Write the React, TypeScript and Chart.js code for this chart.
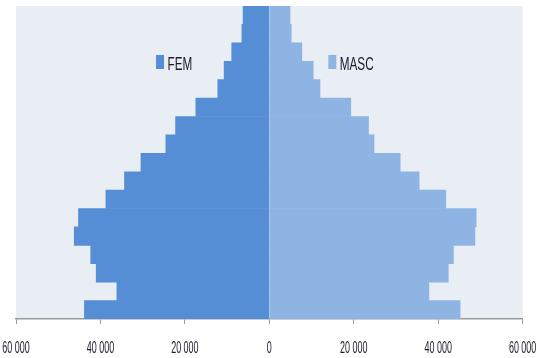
import React, { useEffect, useRef } from "react";
import { Chart, registerables } from "chart.js";

Chart.register(...registerables);

// Age groups, youngest first (drawn bottom to top)
const ageGroups = [
  "0-4", "5-9", "10-14", "15-19", "20-24", "25-29", "30-34", "35-39", "40-44",
  "45-49", "50-54", "55-59", "60-64", "65-69", "70-74", "75-79", "80+",
];

const femValues = [
  43800, 36100, 41000, 42300, 46200, 45200, 38700, 34300, 30400,
  24500, 22200, 17400, 12200, 10700, 8900, 6500, 6200,
];

const mascValues = [
  45200, 37800, 42400, 43600, 48700, 49000, 41800, 35500, 31000,
  24800, 23500, 19300, 12000, 10400, 7700, 5200, 4900,
];

const tickLabels = ["60 000", "40 000", "20 000", "0", "20 000", "40 000", "60 000"];

const FEM_COLOR = "#558ED5";
const MASC_COLOR = "#8EB4E3";
const PLOT_BG = "#E9EDF4";
const TEXT_COLOR = "#1c1c2a";

function drawScaledText(
  ctx: CanvasRenderingContext2D,
  text: string,
  x: number,
  y: number,
  align: CanvasTextAlign,
  sx: number,
  font: string
) {
  ctx.save();
  ctx.translate(x, y);
  ctx.scale(sx, 1);
  ctx.font = font;
  ctx.fillStyle = TEXT_COLOR;
  ctx.textAlign = align;
  ctx.textBaseline = "alphabetic";
  ctx.fillText(text, 0, 0);
  ctx.restore();
}

const pyramidPlugin = {
  id: "pyramidDecor",
  beforeDraw(chart: any) {
    const { ctx, chartArea } = chart;
    ctx.save();
    ctx.fillStyle = PLOT_BG;
    ctx.fillRect(chartArea.left, chartArea.top, chartArea.right - chartArea.left, chartArea.bottom - chartArea.top);
    ctx.restore();
  },
  afterDraw(chart: any) {
    const { ctx, chartArea } = chart;
    const xs = chart.scales.x;
    // tick labels
    xs.ticks.forEach((t: any, i: number) => {
      const px = xs.getPixelForValue(t.value);
      const label = tickLabels[i] ?? String(Math.abs(t.value));
      drawScaledText(ctx, label, px, chartArea.bottom + 34, "center", 0.56, "16px 'Liberation Sans', Arial, sans-serif");
    });
    // legend inside plot area
    const w = chartArea.right - chartArea.left;
    const items = [
      { text: "FEM", color: FEM_COLOR, fx: 0.2764 },
      { text: "MASC", color: MASC_COLOR, fx: 0.6165 },
    ];
    items.forEach((it) => {
      const bx = chartArea.left + it.fx * w;
      const by = chartArea.top + 49;
      ctx.save();
      ctx.fillStyle = it.color;
      ctx.fillRect(bx, by, 8, 14);
      ctx.restore();
      drawScaledText(ctx, it.text, bx + 11.5, chartArea.top + 64, "left", 0.65, "18px 'Liberation Sans', Arial, sans-serif");
    });
  },
};

export default function App() {
  const canvasRef = useRef<HTMLCanvasElement | null>(null);

  useEffect(() => {
    if (!canvasRef.current) return;
    const chart = new Chart(canvasRef.current, {
      type: "bar",
      data: {
        labels: ageGroups,
        datasets: [
          {
            label: "FEM",
            data: femValues.map((v) => -v),
            backgroundColor: FEM_COLOR,
            borderWidth: 0,
            barPercentage: 1,
            categoryPercentage: 1,
          },
          {
            label: "MASC",
            data: mascValues,
            backgroundColor: MASC_COLOR,
            borderWidth: 0,
            barPercentage: 1,
            categoryPercentage: 1,
          },
        ],
      },
      options: {
        indexAxis: "y",
        animation: false,
        responsive: false,
        maintainAspectRatio: false,
        layout: { padding: { left: 16, right: 16.4, top: 6, bottom: 34 } },
        plugins: {
          legend: { display: false },
          tooltip: { enabled: false },
        },
        scales: {
          x: {
            type: "linear",
            min: -60000,
            max: 60000,
            stacked: true,
            ticks: { display: false, stepSize: 20000 },
            grid: {
              display: true,
              drawOnChartArea: false,
              drawTicks: true,
              tickLength: 5,
              color: "#9a9a9a",
              lineWidth: 1,
            },
            border: { display: true, color: "#9a9a9a", width: 1.5 },
          },
          y: {
            type: "category",
            reverse: true,
            stacked: true,
            display: false,
          },
        },
      },
      plugins: [pyramidPlugin],
    });
    return () => chart.destroy();
  }, []);

  return (
    <div style={{ position: "fixed", left: 0, top: 0, width: 539, height: 358, background: "#fff" }}>
      <canvas ref={canvasRef} width={539} height={358} style={{ width: 539, height: 358, display: "block" }} />
    </div>
  );
}
